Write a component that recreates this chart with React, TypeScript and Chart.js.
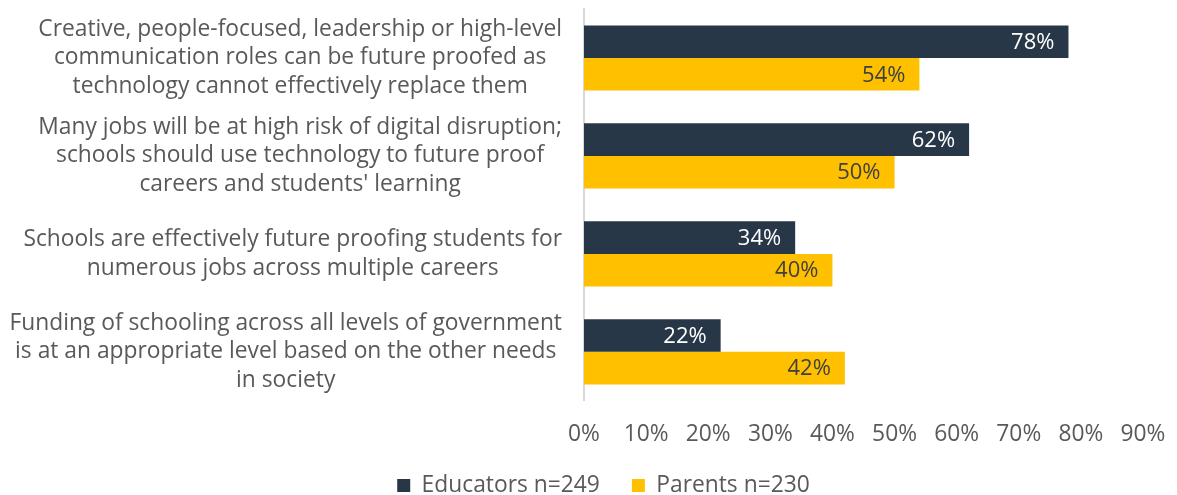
import React, { useEffect, useRef } from "react";
import { Chart, registerables } from "chart.js";

Chart.register(...registerables);

const categories: string[][] = [
  ["Creative, people-focused, leadership or high-level", "communication roles can be future proofed as", "technology cannot effectively replace them"],
  ["Many jobs will be at high risk of digital disruption;", "schools should use technology to future proof", "careers and students' learning"],
  ["Schools are effectively future proofing students for", "numerous jobs across multiple careers"],
  ["Funding of schooling across all levels of government", "is at an appropriate level based on the other needs", "in society"],
];
const educators: number[] = [78, 62, 34, 22];
const parents: number[] = [54, 50, 40, 42];
const seriesNames: string[] = ["Educators n=249", "Parents n=230"];
const xTicks: number[] = [0, 10, 20, 30, 40, 50, 60, 70, 80, 90];

const FONT = "'Open Sans', sans-serif";
const FS = 22.8;
const TEXT = "#595959";

const categoryLabelPlugin = {
  id: "categoryLabels",
  afterLayout(chart: any) {
    if (chart.legend) {
      chart.legend.left += 32;
      chart.legend.right += 32;
    }
  },
  afterDraw(chart: any) {
    const ctx = chart.ctx;
    const y = chart.scales.y;
    const area = chart.chartArea;
    ctx.save();
    ctx.font = `${FS}px ${FONT}`;
    ctx.fillStyle = TEXT;
    ctx.textAlign = "center";
    ctx.textBaseline = "middle";
    categories.forEach((lines, i) => {
      const cy = y.getPixelForValue(i);
      const w = Math.max(...lines.map((l) => ctx.measureText(l).width));
      const right = area.left - 22;
      const cx = right - w / 2;
      const lh = 28.5;
      lines.forEach((l, k) => {
        ctx.fillText(l, cx, cy + (k - (lines.length - 1) / 2) * lh);
      });
    });
    ctx.restore();
  },
};

const valueLabelPlugin = {
  id: "valueLabels",
  afterDatasetsDraw(chart: any) {
    const ctx = chart.ctx;
    ctx.save();
    ctx.font = `22px ${FONT}`;
    ctx.textAlign = "right";
    ctx.textBaseline = "middle";
    chart.data.datasets.forEach((ds: any, di: number) => {
      const meta = chart.getDatasetMeta(di);
      meta.data.forEach((bar: any, i: number) => {
        ctx.fillStyle = di === 0 ? "#ffffff" : "#404040";
        ctx.fillText(`${ds.data[i]}%`, bar.x - 14, bar.y + 1);
      });
    });
    ctx.restore();
  },
};

export default function App() {
  const ref = useRef<HTMLCanvasElement | null>(null);
  useEffect(() => {
    if (!ref.current) return;
    const chart = new Chart(ref.current, {
      type: "bar",
      data: {
        labels: categories.map((c) => c.join(" ")),
        datasets: [
          { label: seriesNames[0], data: educators, backgroundColor: "#283747", barPercentage: 1, categoryPercentage: 0.665 },
          { label: seriesNames[1], data: parents, backgroundColor: "#FFC000", barPercentage: 1, categoryPercentage: 0.665 },
        ],
      },
      options: {
        indexAxis: "y",
        animation: false,
        responsive: true,
        maintainAspectRatio: false,
        layout: { padding: { top: 9, right: 34, bottom: -12, left: 0 } },
        scales: {
          x: {
            min: 0,
            max: 90,
            afterBuildTicks: (s: any) => {
              s.ticks = xTicks.map((v) => ({ value: v }));
            },
            afterFit: (s: any) => {
              s.height = s.height - 26;
              s.paddingRight = 0;
              s.paddingLeft = 0;
            },
            ticks: {
              callback: (v: any) => `${v}%`,
              color: TEXT,
              font: { size: FS, family: FONT },
              padding: 20,
              maxRotation: 0,
            },
            grid: { display: false, drawTicks: false },
            border: { display: false },
          },
          y: {
            ticks: { display: false },
            grid: { display: false, drawTicks: false },
            border: { display: true, color: "#d9d9d9", width: 2 },
            afterFit: (s: any) => {
              s.width = 584;
            },
          },
        },
        plugins: {
          legend: {
            position: "bottom",
            labels: {
              boxWidth: 13,
              boxHeight: 13,
              color: TEXT,
              font: { size: FS, family: FONT },
              padding: 32,
            },
          },
          tooltip: { enabled: false },
        },
      },
      plugins: [categoryLabelPlugin, valueLabelPlugin],
    });
    return () => chart.destroy();
  }, []);
  return (
    <div style={{ position: "absolute", left: 0, top: 0, width: 1177, height: 495 }}>
      <canvas ref={ref} />
    </div>
  );
}
